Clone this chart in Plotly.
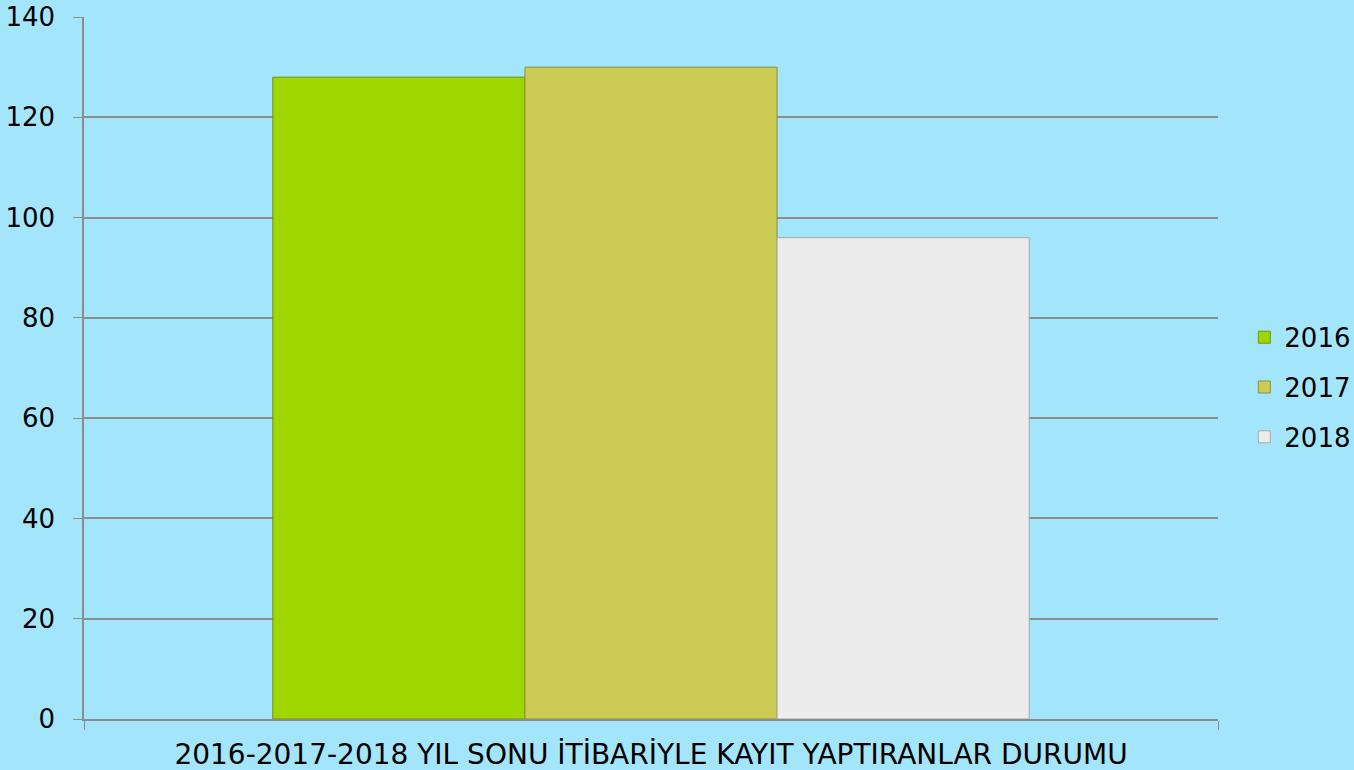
import plotly.graph_objects as go

category = ["2016-2017-2018 YIL SONU İTİBARİYLE KAYIT YAPTIRANLAR DURUMU"]
years = ["2016", "2017", "2018"]
values = [128, 130, 96]
colors = ["#9fd600", "#cccc54", "#ececec"]
edge_colors = ["#6f9400", "#8f8d3a", "#a8a8a8"]

fig = go.Figure()
for i, (yr, v) in enumerate(zip(years, values)):
    fig.add_trace(go.Bar(
        name=yr, x=category, y=[v],
        marker=dict(color=colors[i], line=dict(color=edge_colors[i], width=1)),
        legendgroup=yr,
    ))

fig.update_layout(
    width=1354, height=770,
    margin=dict(l=84, r=136, t=17, b=51),
    paper_bgcolor="#a3e6fc", plot_bgcolor="#a3e6fc",
    barmode="group", bargap=0.333, bargroupgap=0,
    font=dict(family="DejaVu Sans", size=26, color="#000000"),
    showlegend=True,
    legend=dict(xref="container", yref="container", x=0.919, y=0.497,
                xanchor="left", yanchor="middle",
                bgcolor="rgba(0,0,0,0)", tracegroupgap=13,
                font=dict(size=26), itemwidth=30),
    xaxis=dict(type="category", showline=True, linecolor="#8c8c8c", linewidth=1.5,
               ticks="outside", tickson="boundaries", ticklen=9, tickcolor="#8c8c8c",
               tickfont=dict(size=28), showgrid=False, automargin=False,
               ticklabelstandoff=10),
    yaxis=dict(range=[0, 140], dtick=20, showline=True, linecolor="#8c8c8c", linewidth=1.5,
               ticks="outside", ticklen=9, tickcolor="#8c8c8c",
               gridcolor="#8c8c8c", gridwidth=1.5, zeroline=False,
               tickfont=dict(size=26), automargin=False, ticklabelstandoff=13),
)

fig.write_html("out.html")
